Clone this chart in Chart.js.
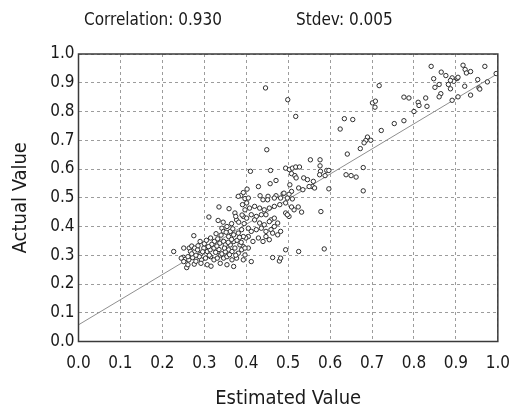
<!DOCTYPE html>
<html>
<head>
<meta charset="utf-8">
<script src="https://cdn.jsdelivr.net/npm/chart.js@4.4.1/dist/chart.umd.min.js"></script>
<style>
  html, body { margin: 0; padding: 0; background: #fff; }
  #wrap { width: 522px; height: 409px; }
</style>
</head>
<body>
<div id="wrap"><canvas id="scatter"></canvas></div>
<script>
// Estimated value for each sample (x)
const estimated = [
  0.841, 0.917, 0.969, 0.865, 0.876, 0.922, 0.925, 0.935, 0.847, 0.891,
  0.895, 0.903, 0.887, 0.952, 0.975, 0.860, 0.850, 0.882, 0.921, 0.955,
  0.957, 0.887, 0.864, 0.860, 0.905, 0.891, 0.935, 0.828, 0.831, 0.810,
  0.812, 0.776, 0.788, 0.800, 0.776, 0.753, 0.722, 0.701, 0.708, 0.707,
  0.717, 0.689, 0.685, 0.697, 0.672, 0.681, 0.641, 0.634, 0.654, 0.624,
  0.679, 0.638, 0.650, 0.662, 0.679, 0.597, 0.996, 0.905,
  0.446, 0.449, 0.458, 0.410, 0.429, 0.457, 0.471, 0.402, 0.393, 0.387,
  0.433, 0.452, 0.471, 0.488, 0.499, 0.518, 0.553, 0.576, 0.576, 0.577,
  0.575, 0.592, 0.597, 0.588, 0.494, 0.503, 0.510, 0.518, 0.527, 0.508,
  0.516, 0.519, 0.537, 0.546, 0.560, 0.558, 0.550, 0.563, 0.504, 0.525,
  0.535, 0.508, 0.502, 0.490, 0.510, 0.514, 0.508, 0.524, 0.532, 0.494,
  0.502, 0.498, 0.480, 0.475, 0.482, 0.494, 0.525, 0.479, 0.578, 0.586,
  0.397, 0.405, 0.440, 0.451, 0.467, 0.482, 0.498, 0.397, 0.408, 0.420,
  0.432, 0.443, 0.455, 0.467, 0.494, 0.393, 0.401, 0.412, 0.424, 0.436,
  0.447, 0.459, 0.467, 0.455, 0.443, 0.432, 0.420, 0.405, 0.412, 0.424,
  0.436, 0.447, 0.459, 0.467, 0.463, 0.475, 0.405, 0.429, 0.416, 0.440,
  0.393, 0.405, 0.397, 0.393, 0.412, 0.463, 0.482, 0.447, 0.455, 0.399,
  0.381, 0.401,
  0.227, 0.251, 0.250, 0.255, 0.258, 0.264, 0.270, 0.277, 0.267, 0.272,
  0.276, 0.263, 0.275, 0.290, 0.293, 0.292, 0.311, 0.335, 0.359, 0.333,
  0.373, 0.377, 0.375, 0.382, 0.391, 0.342, 0.354, 0.362, 0.346, 0.358,
  0.370, 0.381, 0.389, 0.393, 0.315, 0.324, 0.332, 0.337, 0.346, 0.350,
  0.284, 0.299, 0.307, 0.314, 0.323, 0.358, 0.366, 0.373, 0.381, 0.389,
  0.397, 0.385, 0.362, 0.370, 0.245, 0.251, 0.261, 0.280, 0.288, 0.303,
  0.315, 0.323, 0.331, 0.338, 0.346, 0.354, 0.366, 0.377, 0.261, 0.292,
  0.307, 0.316, 0.338, 0.354, 0.370, 0.300, 0.305, 0.318, 0.327, 0.335,
  0.342, 0.350, 0.357, 0.365, 0.378, 0.384, 0.340, 0.328, 0.310, 0.296,
  0.285, 0.280, 0.270, 0.312, 0.330, 0.348, 0.360, 0.375, 0.388, 0.352,
  0.368, 0.365, 0.345, 0.395, 0.390
];

// Actual value for each sample (y)
const actual = [
  0.957, 0.961, 0.957, 0.937, 0.925, 0.946, 0.934, 0.939, 0.914, 0.917,
  0.905, 0.915, 0.908, 0.911, 0.903, 0.894, 0.884, 0.894, 0.888, 0.882,
  0.878, 0.879, 0.862, 0.851, 0.851, 0.839, 0.857, 0.847, 0.818, 0.832,
  0.821, 0.850, 0.847, 0.800, 0.768, 0.758, 0.734, 0.830, 0.836, 0.815,
  0.890, 0.711, 0.699, 0.700, 0.671, 0.691, 0.652, 0.775, 0.772, 0.739,
  0.605, 0.580, 0.577, 0.572, 0.524, 0.531, 0.932, 0.919,
  0.882, 0.667, 0.595, 0.592, 0.539, 0.549, 0.560, 0.530, 0.518, 0.507,
  0.507, 0.505, 0.507, 0.514, 0.841, 0.783, 0.632, 0.632, 0.611, 0.592,
  0.580, 0.595, 0.595, 0.577, 0.603, 0.598, 0.603, 0.607, 0.607, 0.584,
  0.577, 0.569, 0.569, 0.563, 0.557, 0.539, 0.539, 0.534, 0.545, 0.534,
  0.528, 0.522, 0.512, 0.516, 0.496, 0.458, 0.468, 0.468, 0.450, 0.447,
  0.435, 0.441, 0.476, 0.412, 0.383, 0.319, 0.313, 0.280, 0.452, 0.322,
  0.497, 0.499, 0.493, 0.493, 0.499, 0.499, 0.499, 0.458, 0.464, 0.470,
  0.464, 0.458, 0.464, 0.470, 0.482, 0.435, 0.429, 0.441, 0.435, 0.441,
  0.441, 0.423, 0.429, 0.417, 0.406, 0.412, 0.423, 0.394, 0.383, 0.389,
  0.394, 0.383, 0.389, 0.400, 0.377, 0.371, 0.365, 0.360, 0.348, 0.348,
  0.330, 0.325, 0.301, 0.284, 0.278, 0.292, 0.290, 0.365, 0.354, 0.360,
  0.505, 0.482,
  0.313, 0.325, 0.293, 0.286, 0.257, 0.325, 0.332, 0.325, 0.313, 0.292,
  0.269, 0.284, 0.368, 0.348, 0.284, 0.305, 0.433, 0.468, 0.462, 0.421,
  0.447, 0.423, 0.435, 0.415, 0.476, 0.394, 0.400, 0.383, 0.383, 0.365,
  0.371, 0.377, 0.389, 0.365, 0.360, 0.348, 0.357, 0.342, 0.348, 0.336,
  0.319, 0.325, 0.313, 0.319, 0.325, 0.319, 0.313, 0.325, 0.307, 0.319,
  0.325, 0.336, 0.336, 0.348, 0.290, 0.278, 0.295, 0.279, 0.295, 0.290,
  0.295, 0.284, 0.290, 0.301, 0.290, 0.295, 0.284, 0.290, 0.267, 0.272,
  0.267, 0.262, 0.272, 0.267, 0.261, 0.340, 0.352, 0.338, 0.310, 0.320,
  0.305, 0.312, 0.345, 0.355, 0.352, 0.362, 0.370, 0.375, 0.330, 0.312,
  0.333, 0.300, 0.305, 0.300, 0.332, 0.325, 0.302, 0.300, 0.345, 0.380,
  0.392, 0.410, 0.415, 0.410, 0.440
];

// Fitted line through the cloud
const fitX = [0, 1];
const fitY = [0.058, 0.932];

const tickLabels = ['0.0', '0.1', '0.2', '0.3', '0.4', '0.5', '0.6', '0.7', '0.8', '0.9', '1.0'];

const correlation = '0.930';
const stdev = '0.005';

const FONT = "'DejaVu Sans Condensed', 'DejaVu Sans', sans-serif";
const INK = '#1a1a1a';

const samplePoints = estimated.map((x, i) => ({ x: x, y: actual[i] }));
const fitPoints = fitX.map((x, i) => ({ x: x, y: fitY[i] }));

// frame around the plot area plus the stats line above it
const frameAndStats = {
    id: 'frameAndStats',
    afterDatasetsDraw(chart) {
        const { ctx, chartArea: a } = chart;
        ctx.save();
        ctx.strokeStyle = '#3a3a3a';
        ctx.lineWidth = 1.5;
        ctx.strokeRect(a.left, a.top, a.right - a.left, a.bottom - a.top);
        ctx.restore();
    },
    afterDraw(chart) {
        const { ctx, chartArea: a } = chart;
        ctx.save();
        ctx.fillStyle = INK;
        ctx.font = '17px ' + FONT;
        ctx.textBaseline = 'alphabetic';
        ctx.textAlign = 'left';
        ctx.fillText('Correlation: ' + correlation, a.left + 5.5, 25);
        ctx.fillText('Stdev: ' + stdev, a.left + 217.5, 25);
        ctx.restore();
    }
};

const axisTicks = {
    min: 0,
    max: 1,
    ticks: {
        stepSize: 0.1,
        color: INK,
        font: { family: FONT, size: 17 },
        callback: (v) => tickLabels[Math.round(v * 10)]
    },
    grid: {
        color: '#9c9c9c',
        lineWidth: 1,
        drawTicks: false
    },
    border: { display: false, dash: [3, 3] }
};

new Chart(document.getElementById('scatter'), {
    type: 'scatter',
    data: {
        datasets: [
            {
                label: 'Samples',
                data: samplePoints,
                pointStyle: 'circle',
                pointRadius: 2.2,
                pointBorderWidth: 1,
                pointBorderColor: '#2e2e2e',
                pointBackgroundColor: '#ffffff',
                order: 1
            },
            {
                label: 'Fit',
                type: 'line',
                data: fitPoints,
                borderColor: '#8f8f8f',
                borderWidth: 1,
                pointRadius: 0,
                fill: false,
                order: 2
            }
        ]
    },
    options: {
        responsive: true,
        maintainAspectRatio: false,
        animation: false,
        layout: { padding: { top: 54, right: 16, left: 0, bottom: 0 } },
        plugins: {
            legend: { display: false },
            tooltip: { enabled: false }
        },
        scales: {
            x: Object.assign({}, axisTicks, {
                type: 'linear',
                ticks: Object.assign({}, axisTicks.ticks, { padding: 12, maxRotation: 0 }),
                title: {
                    display: true,
                    text: 'Estimated Value',
                    color: INK,
                    font: { family: FONT, size: 20, lineHeight: 1 },
                    padding: { top: 0, bottom: 0 }
                },
                afterFit: (scale) => { scale.height = 67.5; }
            }),
            y: Object.assign({}, axisTicks, {
                type: 'linear',
                ticks: Object.assign({}, axisTicks.ticks, { padding: 4 }),
                title: {
                    display: true,
                    text: 'Actual Value',
                    color: INK,
                    font: { family: FONT, size: 20, lineHeight: 1 },
                    padding: { top: 11, bottom: 0 }
                },
                afterFit: (scale) => { scale.width = 78.5; }
            })
        }
    },
    plugins: [frameAndStats]
});
</script>
</body>
</html>
